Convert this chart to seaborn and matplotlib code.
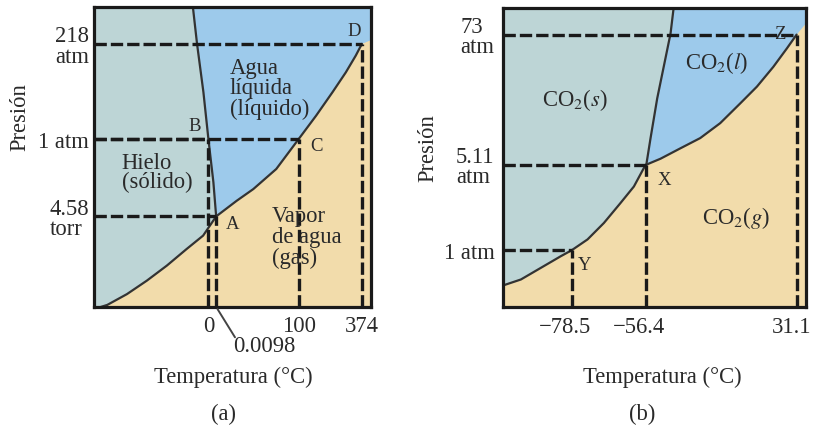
import matplotlib
matplotlib.use("Agg")
import matplotlib.pyplot as plt
import matplotlib.transforms as mtransforms
import seaborn as sns

# ---------------- data (schematic diagram units, 0-100 on each axis) ----------------
# (a) water
h2o_sub_x = [2.4, 4.8, 11.9, 19.1, 26.3, 33.4, 39.4, 44.1]
h2o_sub_y = [0.0, 0.7, 4.3, 8.8, 13.8, 19.3, 23.8, 30.2]
h2o_vap_x = [44.1, 51.5, 57.5, 65.8, 73.9, 80.2, 86.1, 90.9, 94.5, 96.7]
h2o_vap_y = [30.2, 35.4, 39.3, 46.0, 56.0, 63.8, 71.6, 78.2, 83.8, 87.7]
h2o_fus_x = [44.1, 43.1, 41.3, 39.5, 37.2, 35.7]
h2o_fus_y = [30.2, 41.6, 56.0, 71.6, 87.7, 100.0]
h2o_gas_edge_y = 89.0
h2o_pt_names = ["A", "B", "C", "D"]
h2o_pt_x = [44.1, 41.3, 73.9, 96.7]
h2o_pt_y = [30.2, 56.0, 56.0, 87.7]
h2o_xticks = [41.3, 73.9, 96.7]
h2o_xlabels = ["0", "100", "374"]
h2o_yticks = [30.2, 56.0, 87.7]
h2o_ylabels = ["4.58\ntorr", "1 atm", "218\natm"]
h2o_triple_label = "0.0098"
h2o_regions = ["Agua\nlíquida\n(líquido)", "Hielo\n(sólido)", "Vapor\nde agua\n(gas)"]

# (b) carbon dioxide
co2_sub_x = [0.0, 5.9, 12.5, 19.1, 22.7, 27.9, 33.3, 38.8, 43.2, 46.5, 47.3]
co2_sub_y = [7.3, 9.3, 13.2, 17.1, 19.1, 22.7, 28.2, 34.9, 40.4, 46.6, 47.7]
co2_vap_x = [47.3, 52.0, 58.6, 65.1, 71.7, 78.3, 83.8, 89.2, 93.7, 96.9]
co2_vap_y = [47.7, 49.7, 53.2, 56.6, 61.6, 68.2, 73.8, 80.4, 86.6, 91.2]
co2_fus_x = [47.3, 48.7, 50.9, 53.6, 55.3, 56.3]
co2_fus_y = [47.7, 56.6, 69.9, 83.2, 91.6, 100.0]
co2_gas_edge_y = 95.0
co2_pt_names = ["X", "Y", "Z"]
co2_pt_x = [47.3, 22.7, 96.9]
co2_pt_y = [47.7, 19.1, 91.2]
co2_xticks = [22.7, 47.3, 96.9]
co2_xlabels = ["\u221278.5", "\u221256.4", "31.1"]
co2_yticks = [19.1, 47.7, 91.2]
co2_ylabels = ["1 atm", "5.11\natm", "73\natm"]
co2_regions = ["CO$_2$($s$)", "CO$_2$($l$)", "CO$_2$($g$)"]

xlabel = "Temperatura (\u00b0C)"
ylabel = "Presión"

# ---------------- style ----------------
sns.set_theme(style="white")
plt.rcParams["font.family"] = ["Liberation Serif", "DejaVu Serif"]
plt.rcParams["mathtext.fontset"] = "stix"

SOLID = "#bdd5d6"
LIQ = "#9dcaeb"
GAS = "#f2dcab"
CURVE = "#333333"
TXT = "#2a2a2a"
FS = 16.3
DASH = (0, (3.7, 1.2))

fig = plt.figure(figsize=(8.13, 4.27), dpi=100)
W, H = 813.0, 427.0
axA = fig.add_axes([94 / W, (H - 308) / H, 277 / W, 300 / H])
axB = fig.add_axes([503 / W, (H - 308.3) / H, 303 / W, 299 / H])


def phase(ax, sub_x, sub_y, vap_x, vap_y, fus_x, fus_y, edge_y,
          pt_x, pt_y, xt, xl, yt, yl, ypad):
    ax.set_xlim(0, 100)
    ax.set_ylim(0, 100)
    ax.set_facecolor(SOLID)
    gas_x = [0] + sub_x + vap_x[1:] + [100, 100]
    gas_y = [0] + sub_y + vap_y[1:] + [edge_y, 0]
    ax.fill(gas_x, gas_y, color=GAS, lw=0, zorder=0.5)
    liq_x = fus_x + [100, 100] + vap_x[::-1]
    liq_y = fus_y + [100, edge_y] + vap_y[::-1]
    ax.fill(liq_x, liq_y, color=LIQ, lw=0, zorder=0.5)
    for cx, cy in ((sub_x, sub_y), (vap_x, vap_y), (fus_x, fus_y)):
        sns.lineplot(x=cx, y=cy, sort=False, estimator=None, color=CURVE,
                     lw=1.6, ax=ax, zorder=2)
    for px, py in zip(pt_x, pt_y):
        ax.plot([0, px], [py, py], color="k", lw=2.4, ls=DASH, zorder=3)
        ax.plot([px, px], [0, py], color="k", lw=2.4, ls=DASH, zorder=3)
    ax.set_xticks(xt, labels=xl)
    ax.set_yticks(yt, labels=yl)
    ax.tick_params(axis="x", length=0, pad=6, labelsize=FS, labelcolor=TXT)
    ax.tick_params(axis="y", length=0, pad=ypad, labelsize=FS, labelcolor=TXT)
    for lb in ax.get_yticklabels():
        lb.set_multialignment("left")
        lb.set_linespacing(0.95)
    for s in ax.spines.values():
        s.set_visible(True)
        s.set_color("k")
        s.set_linewidth(2.3)
        s.set_zorder(5)
    ax.set_xlabel("")
    ax.set_ylabel("")


phase(axA, h2o_sub_x, h2o_sub_y, h2o_vap_x, h2o_vap_y, h2o_fus_x, h2o_fus_y,
      h2o_gas_edge_y, h2o_pt_x, h2o_pt_y, h2o_xticks, h2o_xlabels,
      h2o_yticks, h2o_ylabels, 3.5)
phase(axB, co2_sub_x, co2_sub_y, co2_vap_x, co2_vap_y, co2_fus_x, co2_fus_y,
      co2_gas_edge_y, co2_pt_x, co2_pt_y, co2_xticks, co2_xlabels,
      co2_yticks, co2_ylabels, 6)

# shift negative tick labels so the digits sit centred on the tick;
# pull the right-most label inside the canvas
for lb in axB.get_xticklabels():
    t = lb.get_text()
    if t.startswith("\u2212"):
        dx = -0.07
    elif t == co2_xlabels[-1]:
        dx = -0.05
    else:
        dx = 0.0
    lb.set_transform(lb.get_transform() +
                     mtransforms.ScaledTranslation(dx, 0, fig.dpi_scale_trans))

# 0.0098 leader line (a)
axA.plot([44.6, 50.9], [-0.7, -10.1], color="#444444", lw=1.4, clip_on=False, zorder=6)
axA.text(61.4, -12.8, h2o_triple_label, ha="center", va="center", fontsize=FS,
         color=TXT, clip_on=False)

# point letters
pt_off_a = [(12.0, -4.8), (-10.0, 10.0), (12.5, -4.8), (-5.5, 9.6)]
for n, px, py, (dx, dy) in zip(h2o_pt_names, h2o_pt_x, h2o_pt_y, pt_off_a):
    axA.annotate(n, (px, py), xytext=(dx, dy), textcoords="offset points",
                 ha="center", va="center", fontsize=13.5, color=TXT, zorder=7)
pt_off_b = [(12.7, -10.8), (8.9, -10.3), (-12.0, 0.7)]
for n, px, py, (dx, dy) in zip(co2_pt_names, co2_pt_x, co2_pt_y, pt_off_b):
    axB.annotate(n, (px, py), xytext=(dx, dy), textcoords="offset points",
                 ha="center", va="center", fontsize=13.5, color=TXT, zorder=7)

# region labels
axA.text(49.1, 73.0, h2o_regions[0], ha="left", va="center", fontsize=FS,
         color=TXT, linespacing=0.98, zorder=7)
axA.text(10.0, 45.0, h2o_regions[1], ha="left", va="center", fontsize=FS,
         color=TXT, linespacing=0.92, zorder=7)
axA.text(64.2, 23.5, h2o_regions[2], ha="left", va="center", fontsize=FS,
         color=TXT, linespacing=0.98, zorder=7)
axB.text(23.8, 69.7, co2_regions[0], ha="center", va="center", fontsize=FS,
         color=TXT, zorder=7)
axB.text(70.6, 82.0, co2_regions[1], ha="center", va="center", fontsize=FS,
         color=TXT, zorder=7)
axB.text(76.8, 30.2, co2_regions[2], ha="center", va="center", fontsize=FS,
         color=TXT, zorder=7)

# axis titles and panel tags
fig.text(20 / W, 1 - 116.7 / H, ylabel, rotation=90, ha="center", va="center",
         fontsize=FS, color=TXT)
fig.text(428 / W, 1 - 147.7 / H, ylabel, rotation=90, ha="center", va="center",
         fontsize=FS, color=TXT)
fig.text(233 / W, 1 - 377 / H, xlabel, ha="center", va="center", fontsize=FS, color=TXT)
fig.text(662.5 / W, 1 - 377 / H, xlabel, ha="center", va="center", fontsize=FS, color=TXT)
fig.text(223.3 / W, 1 - 414 / H, "(a)", ha="center", va="center", fontsize=FS, color=TXT)
fig.text(642.5 / W, 1 - 414 / H, "(b)", ha="center", va="center", fontsize=FS, color=TXT)

fig.savefig("out.png", dpi=100, facecolor="white")
